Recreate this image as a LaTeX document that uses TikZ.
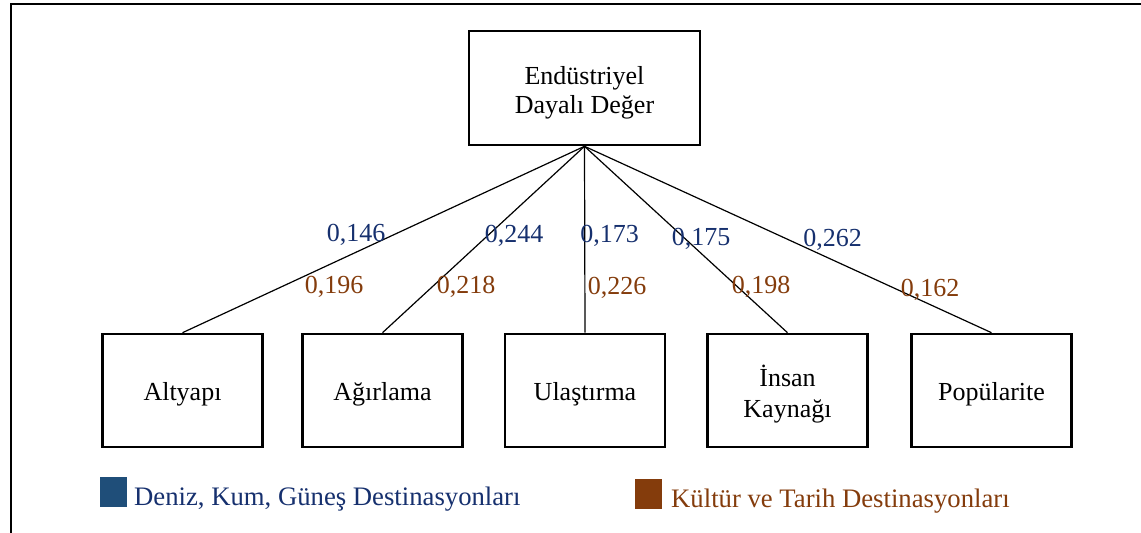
\documentclass[tikz,border=0pt]{standalone}
\usepackage{fontspec}
\setmainfont{Liberation Serif}
\definecolor{navytext}{RGB}{22,48,110}
\definecolor{navysq}{RGB}{31,78,121}
\definecolor{browntext}{RGB}{132,60,12}
\newcommand{\topstrut}[1]{\rule{0pt}{#1}}
\newcommand{\botstrut}{\rule[-6pt]{0pt}{0pt}}
\tikzset{
  box/.style={draw=black, line width=2.6pt, minimum width=160pt, minimum height=113pt, inner sep=0pt, align=center, font=\fontsize{26}{31}\selectfont},
  topbox/.style={box, minimum width=231pt, minimum height=114pt, font=\fontsize{26}{29}\selectfont},
  conn/.style={draw=black, line width=1.2pt},
  vblue/.style={text=navytext, anchor=base, inner sep=0pt, font=\fontsize{26}{30}\selectfont},
  vbrown/.style={text=browntext, anchor=base, inner sep=0pt, font=\fontsize{26}{30}\selectfont},
  legtext/.style={anchor=base west, inner sep=0pt, font=\fontsize{26.7}{30}\selectfont},
  frame/.style={draw=black, line width=2.2pt}
}
\begin{document}
\begin{tikzpicture}[x=1pt,y=-1pt]
\useasboundingbox (0,0) rectangle (1141,533);
\draw[frame] (11,533) -- (11,4) -- (1141,4);
\node[topbox] (top) at (584.5,88) {\topstrut{27pt}Endüstriyel\\Dayalı Değer\botstrut};
\node[box] (b1) at (182.5,390.5) {\topstrut{25pt}Altyapı\botstrut};
\node[box] (b2) at (382.5,390.5) {\topstrut{25pt}Ağırlama\botstrut};
\node[box] (b3) at (585,390.5) {\topstrut{25pt}Ulaştırma\botstrut};
\node[box] (b4) at (787.5,390.5) {\topstrut{29pt}İnsan\\Kaynağı\botstrut};
\node[box] (b5) at (991.5,390.5) {\topstrut{25pt}Popülarite\botstrut};
\foreach \b in {b1,b2,b3,b4,b5} \draw[conn] (top.south) -- (\b.north);
\node[vblue] (l1a) at (356,241) {0,146};
\node[vbrown] (l1b) at (334,293) {0,196};
\node[vblue] (l2a) at (514,242) {0,244};
\node[vbrown] (l2b) at (466,293) {0,218};
\node[vblue] (l3a) at (609.5,242) {0,173};
\node[vbrown] (l3b) at (617,294) {0,226};
\node[vblue] (l4a) at (701,245) {0,175};
\node[vbrown] (l4b) at (761,293) {0,198};
\node[vblue] (l5a) at (832.5,246) {0,262};
\node[vbrown] (l5b) at (930,296) {0,162};
\fill[navysq] (100,477) rectangle (127,507);
\node[legtext, text=navytext] (leg1) at (134,505) {Deniz, Kum, Güneş Destinasyonları};
\fill[browntext] (635,479) rectangle (662,509);
\node[legtext, text=browntext] (leg2) at (671,507) {Kültür ve Tarih Destinasyonları};
\end{tikzpicture}
\end{document}
